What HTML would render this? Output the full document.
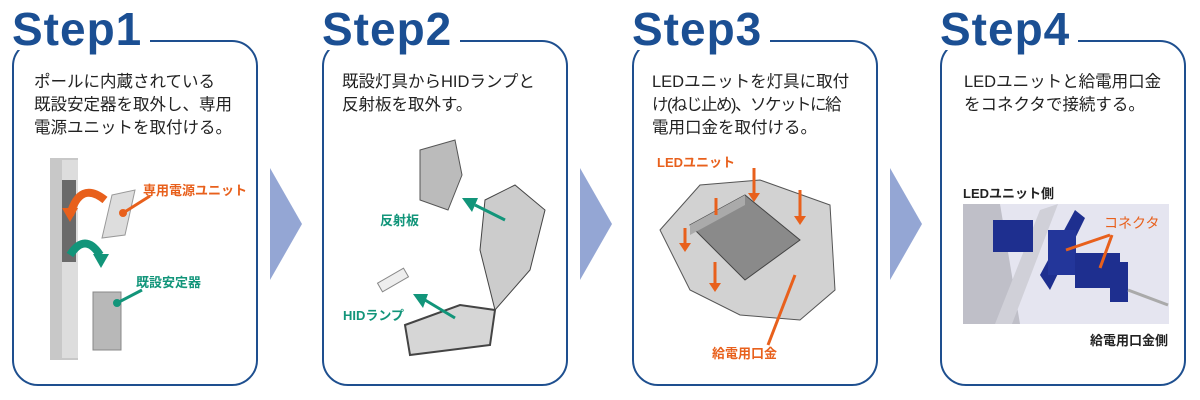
<!DOCTYPE html>
<html><head><meta charset="utf-8"><style>
body{margin:0;width:1200px;height:400px;background:#fff;position:relative;overflow:hidden;font-family:"Liberation Sans","Noto Sans CJK JP",sans-serif}
.p{position:absolute;top:40px;width:246px;height:346px;border:2px solid #1e4f8f;border-radius:26px;box-sizing:border-box}
.t{position:absolute;top:8px;background:#fff;color:#1b4f93;font-weight:bold;font-size:46px;line-height:42px;padding-right:8px;letter-spacing:1px;font-family:"Liberation Sans",sans-serif}
.tx{position:absolute;font-size:16.5px;line-height:23px;color:#222;white-space:nowrap}
.ar{position:absolute;top:168px;width:0;height:0;border-top:56px solid transparent;border-bottom:56px solid transparent;border-left:32px solid #94a6d4}
.l{position:absolute;font-size:13px;font-weight:bold;white-space:nowrap}
.o{color:#e8601c}.g{color:#12957a}.k{color:#222}
</style></head><body>
<div class="p" style="left:12px"></div>
<div class="p" style="left:322px"></div>
<div class="p" style="left:632px"></div>
<div class="p" style="left:940px"></div>
<div class="t" style="left:12px">Step1</div>
<div class="t" style="left:322px">Step2</div>
<div class="t" style="left:632px">Step3</div>
<div class="t" style="left:940px">Step4</div>
<div class="ar" style="left:270px"></div>
<div class="ar" style="left:580px"></div>
<div class="ar" style="left:890px"></div>
<div class="tx" style="left:34px;top:71px">ポールに内蔵されている<br>既設安定器を取外し、専用<br>電源ユニットを取付ける。</div>
<div class="tx" style="left:342px;top:71px">既設灯具からHIDランプと<br>反射板を取外す。</div>
<div class="tx" style="left:652px;top:71px">LEDユニットを灯具に取付<br><span style="letter-spacing:-1.5px">け(ねじ止め)、ソケットに給</span><br>電用口金を取付ける。</div>
<div class="tx" style="left:964px;top:71px">LEDユニットと給電用口金<br>をコネクタで接続する。</div>
<svg style="position:absolute;left:0;top:0" width="1200" height="400">
<rect x="50" y="158" width="28" height="202" fill="#c8c8c8"/><rect x="62" y="160" width="16" height="198" fill="#ddd"/>
<rect x="62" y="180" width="14" height="82" fill="#6a6a6a"/>
<path d="M70 215 Q80 180 105 200" stroke="#e8601c" stroke-width="8" fill="none"/><polygon points="62,208 78,208 70,222" fill="#e8601c"/>
<path d="M70 255 Q85 232 100 255" stroke="#12957a" stroke-width="8" fill="none"/><polygon points="93,254 109,254 101,268" fill="#12957a"/>
<polygon points="112,195 135,190 125,235 102,238" fill="#ddd" stroke="#999"/>
<rect x="93" y="292" width="28" height="58" fill="#b8b8b8" stroke="#888"/>
<line x1="123" y1="213" x2="150" y2="196" stroke="#e8601c" stroke-width="3"/><circle cx="123" cy="213" r="4" fill="#e8601c"/>
<line x1="117" y1="303" x2="142" y2="290" stroke="#12957a" stroke-width="3"/><circle cx="117" cy="303" r="4" fill="#12957a"/>
<path d="M420 150 L455 140 L462 175 L448 210 L420 200 Z" fill="#bbb" stroke="#555"/>
<path d="M485 200 L515 185 L545 210 L530 270 L495 310 L480 250 Z" fill="#ccc" stroke="#444"/>
<path d="M405 325 L460 305 L495 310 L490 345 L410 355 Z" fill="#d6d6d6" stroke="#444" stroke-width="2"/>
<rect x="378" y="275" width="30" height="10" transform="rotate(-30 393 280)" fill="#eee" stroke="#888"/>
<line x1="475" y1="205" x2="505" y2="220" stroke="#12957a" stroke-width="3"/><polygon points="462,198 478,198 472,212" fill="#12957a"/>
<line x1="425" y1="300" x2="455" y2="318" stroke="#12957a" stroke-width="3"/><polygon points="413,294 428,294 423,308" fill="#12957a"/>
<path d="M660 230 L700 185 L760 180 L830 205 L835 290 L800 320 L740 315 L690 290 Z" fill="#d2d2d2" stroke="#555"/>
<polygon points="690,225 745,195 800,240 745,280" fill="#8a8a8a" stroke="#444"/>
<polygon points="690,225 745,195 745,205 690,235" fill="#aaa"/>
<line x1="716" y1="198" x2="716" y2="215" stroke="#e8601c" stroke-width="3"/>
<line x1="754" y1="168" x2="754" y2="195" stroke="#e8601c" stroke-width="3"/><polygon points="748,193 760,193 754,202" fill="#e8601c"/>
<line x1="800" y1="190" x2="800" y2="218" stroke="#e8601c" stroke-width="3"/><polygon points="794,216 806,216 800,225" fill="#e8601c"/>
<line x1="715" y1="262" x2="715" y2="285" stroke="#e8601c" stroke-width="3"/><polygon points="709,283 721,283 715,292" fill="#e8601c"/>
<line x1="685" y1="228" x2="685" y2="245" stroke="#e8601c" stroke-width="3"/><polygon points="679,243 691,243 685,252" fill="#e8601c"/>
<line x1="768" y1="345" x2="795" y2="275" stroke="#e8601c" stroke-width="3"/>
<rect x="963" y="204" width="206" height="120" fill="#e5e5f0"/>
<polygon points="963,204 1000,204 1020,324 963,324" fill="#bfbfc8"/>
<polygon points="1040,210 1058,204 1012,324 995,324" fill="#d0d0d8"/>
<rect x="993" y="220" width="40" height="32" fill="#1e2f8f"/>
<polygon points="1040,275 1075,210 1085,218 1050,290" fill="#1e2f8f"/>
<rect x="1048" y="230" width="28" height="45" fill="#23369a"/>
<rect x="1075" y="253" width="45" height="35" fill="#1e2f8f"/>
<rect x="1110" y="262" width="18" height="40" fill="#1e2f8f"/>
<line x1="1128" y1="290" x2="1168" y2="305" stroke="#aaa" stroke-width="3"/>
<line x1="1066" y1="250" x2="1110" y2="235" stroke="#e8601c" stroke-width="3"/>
<line x1="1100" y1="268" x2="1112" y2="235" stroke="#e8601c" stroke-width="3"/>
</svg>
<div class="l o" style="left:143px;top:180px">専用電源ユニット</div>
<div class="l g" style="left:136px;top:272px">既設安定器</div>
<div class="l g" style="left:380px;top:210px">反射板</div>
<div class="l g" style="left:343px;top:305px">HIDランプ</div>
<div class="l o" style="left:657px;top:152px">LEDユニット</div>
<div class="l o" style="left:712px;top:343px">給電用口金</div>
<div class="l k" style="left:963px;top:183px">LEDユニット側</div>
<div class="l o" style="left:1104px;top:213px;font-weight:normal;font-size:14px">コネクタ</div>
<div class="l k" style="left:1090px;top:330px">給電用口金側</div>
</body></html>
